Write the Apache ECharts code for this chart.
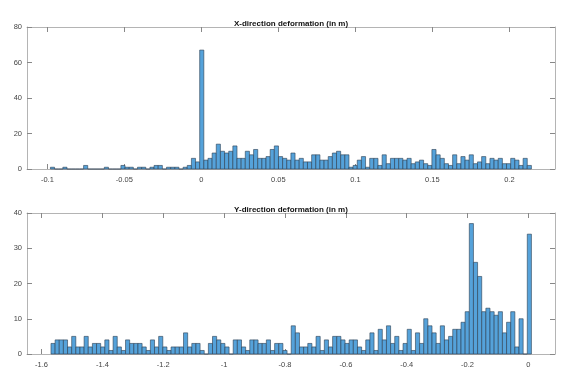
<!DOCTYPE html>
<html>
<head>
<meta charset="utf-8">
<script src="https://cdn.jsdelivr.net/npm/echarts@6.0.0/dist/echarts.min.js"></script>
<style>
  html, body { margin: 0; padding: 0; background: #fff; }
  #main { width: 582px; height: 382px; }
</style>
</head>
<body>
<div id="main"></div>
<script>
// histogram bins: first edge + bin width, one count per bin
var xStart = -0.09805, xWidth = 0.0026926;
var xCounts = [1, 0, 0, 1, 0, 0, 0, 0, 2, 0,
  0, 0, 0, 1, 0, 0, 0, 2, 1, 1,
  0, 1, 1, 0, 1, 2, 2, 0, 1, 1,
  1, 0, 1, 2, 6, 4, 67, 5, 6, 9,
  14, 10, 9, 10, 13, 6, 6, 10, 8, 11,
  6, 6, 7, 11, 13, 7, 6, 5, 9, 5,
  6, 4, 4, 8, 8, 5, 5, 7, 9, 10,
  8, 8, 1, 2, 5, 7, 1, 6, 6, 2,
  8, 3, 6, 6, 6, 5, 6, 3, 4, 5,
  3, 2, 11, 8, 6, 3, 2, 8, 3, 7,
  5, 8, 3, 4, 7, 3, 6, 5, 6, 3,
  3, 6, 5, 2, 6, 2];

var yStart = -1.5691, yWidth = 0.013612;
var yCounts = [3, 4, 4, 4, 2, 5, 2, 2, 5, 2,
  3, 3, 2, 4, 1, 5, 2, 1, 4, 3,
  3, 3, 2, 1, 4, 2, 5, 2, 1, 2,
  2, 2, 6, 2, 3, 3, 1, 0, 3, 5,
  4, 3, 2, 0, 4, 4, 2, 1, 4, 4,
  3, 3, 4, 1, 3, 3, 1, 0, 8, 6,
  2, 2, 3, 2, 5, 1, 4, 2, 5, 5,
  4, 3, 4, 4, 2, 1, 4, 6, 1, 7,
  4, 8, 3, 5, 1, 3, 7, 1, 6, 3,
  10, 8, 6, 3, 8, 4, 5, 7, 7, 9,
  12, 37, 26, 22, 12, 13, 12, 11, 12, 6,
  9, 12, 2, 10, 0, 34];

var xTicks = [-0.1, -0.05, 0, 0.05, 0.1, 0.15, 0.2];
var yTicks = [-1.6, -1.4, -1.2, -1, -0.8, -0.6, -0.4, -0.2, 0];

function bins(start, width, counts) {
  return counts.map(function (c, i) {
    return [start + i * width, start + (i + 1) * width, c];
  });
}

function renderBar(params, api) {
  var p0 = api.coord([api.value(0), api.value(2)]);
  var p1 = api.coord([api.value(1), 0]);
  return {
    type: 'rect',
    shape: { x: p0[0], y: p0[1], width: p1[0] - p0[0], height: p1[1] - p0[1] },
    style: { fill: '#55a2da', stroke: '#2c3e50', lineWidth: 0.6 }
  };
}

var boxColor = '#b4b4b4';
var labelStyle = { color: '#444', fontSize: 7.5, fontFamily: 'Liberation Sans' };

function xAxes(grid, min, max, ticks) {
  return [{
    type: 'value', gridIndex: grid, position: 'bottom', min: min, max: max,
    axisLine: { show: true, onZero: false, lineStyle: { color: boxColor } },
    axisTick: { inside: true, length: 5, customValues: ticks, lineStyle: { color: '#888' } },
    axisLabel: Object.assign({ customValues: ticks, margin: 7, formatter: function (v) { return String(+v.toFixed(3)); } }, labelStyle),
    splitLine: { show: false }
  }, {
    type: 'value', gridIndex: grid, position: 'top', min: min, max: max,
    axisLine: { show: true, onZero: false, lineStyle: { color: boxColor } },
    axisTick: { inside: true, length: 5, customValues: ticks, lineStyle: { color: '#888' } },
    axisLabel: { show: false },
    splitLine: { show: false }
  }];
}

function yAxes(grid, max, step) {
  return [{
    type: 'value', gridIndex: grid, position: 'left', min: 0, max: max, interval: step,
    axisLine: { show: true, onZero: false, lineStyle: { color: boxColor } },
    axisTick: { show: true, inside: true, length: 5, lineStyle: { color: '#888' } },
    axisLabel: Object.assign({ margin: 5 }, labelStyle),
    splitLine: { show: false }
  }, {
    type: 'value', gridIndex: grid, position: 'right', min: 0, max: max, interval: step,
    axisLine: { show: true, onZero: false, lineStyle: { color: boxColor } },
    axisTick: { show: true, inside: true, length: 5, lineStyle: { color: '#888' } },
    axisLabel: { show: false },
    splitLine: { show: false }
  }];
}

var myChart = echarts.init(document.getElementById('main'));
var option = {
  backgroundColor: '#fff',
  animation: false,
  title: [{
    text: 'X-direction deformation (in m)', left: 'center', top: 15,
    textStyle: { fontSize: 8, fontWeight: 'bold', color: '#111', fontFamily: 'Liberation Sans' }
  }, {
    text: 'Y-direction deformation (in m)', left: 'center', top: 201,
    textStyle: { fontSize: 8, fontWeight: 'bold', color: '#111', fontFamily: 'Liberation Sans' }
  }],
  grid: [
    { left: 27, right: 27, top: 27, height: 142 },
    { left: 27, right: 27, top: 213, height: 141 }
  ],
  xAxis: xAxes(0, -0.11325, 0.22961, xTicks).concat(xAxes(1, -1.6479, 0.08736, yTicks)),
  yAxis: yAxes(0, 80, 20).concat(yAxes(1, 40, 10)),
  series: [{
    type: 'custom', xAxisIndex: 0, yAxisIndex: 0,
    renderItem: renderBar, encode: { x: [0, 1], y: 2 },
    data: bins(xStart, xWidth, xCounts)
  }, {
    type: 'custom', xAxisIndex: 2, yAxisIndex: 2,
    renderItem: renderBar, encode: { x: [0, 1], y: 2 },
    data: bins(yStart, yWidth, yCounts)
  }]
};
myChart.setOption(option, true);
</script>
</body>
</html>
